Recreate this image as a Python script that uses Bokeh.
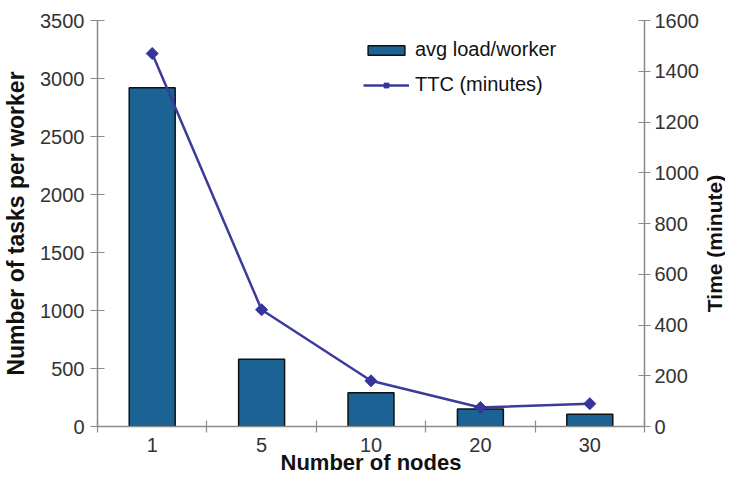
import math
from bokeh.plotting import figure
from bokeh.layouts import row
from bokeh.core.properties import value
from bokeh.models import (Range1d, LinearAxis, FixedTicker, Legend, LegendItem)
from bokeh.embed import file_html
from bokeh.resources import INLINE

nodes = ["1", "5", "10", "20", "30"]
avg_load = [2920, 580, 290, 150, 105]
ttc_minutes = [1470, 460, 180, 75, 90]
left_ticks = [0, 500, 1000, 1500, 2000, 2500, 3000, 3500]
right_ticks = [0, 200, 400, 600, 800, 1000, 1200, 1400, 1600]
right_title = "Time (minute)"

xpos = [i + 0.5 for i in range(len(nodes))]
FONT = "Liberation Sans"
AXIS_GRAY = "#8a8a8a"

p = figure(width=701, height=477, output_backend="svg", toolbar_location=None,
           x_range=Range1d(0, len(nodes)), y_range=Range1d(0, 3500),
           min_border_left=96, min_border_right=54, min_border_top=20,
           min_border_bottom=51, x_axis_location=None, y_axis_location=None)
p.outline_line_color = None
p.xgrid.visible = False
p.ygrid.visible = False
p.background_fill_color = "white"
p.border_fill_color = "white"
p.extra_y_ranges = {"ttc": Range1d(0, 1600)}

def style_axis(ax):
    ax.axis_line_color = AXIS_GRAY
    ax.axis_line_width = 1.5
    ax.major_tick_line_color = AXIS_GRAY
    ax.major_tick_line_width = 1.2
    ax.major_tick_in = 7
    ax.major_tick_out = 7
    ax.minor_tick_line_color = None
    ax.major_label_text_font = FONT
    ax.major_label_text_font_size = "20px"
    ax.major_label_text_color = "#333333"
    ax.axis_label_text_font = FONT
    ax.axis_label_text_font_style = "bold"
    ax.axis_label_text_color = "#111111"

yl = LinearAxis(ticker=FixedTicker(ticks=left_ticks), axis_label="Number of tasks per worker")
style_axis(yl)
yl.axis_label_text_font_size = "23px"
yl.major_label_standoff = 6
yl.axis_label_standoff = 8
p.add_layout(yl, "left")

yr = LinearAxis(y_range_name="ttc", ticker=FixedTicker(ticks=right_ticks))
style_axis(yr)
yr.major_tick_in = 6
yr.major_tick_out = 6
yr.major_label_standoff = 4
p.add_layout(yr, "right")

xa = LinearAxis(ticker=FixedTicker(ticks=xpos, minor_ticks=list(range(len(nodes) + 1))),
                axis_label="Number of nodes")
style_axis(xa)
xa.major_tick_line_color = None
xa.major_tick_in = 0
xa.major_tick_out = 0
xa.minor_tick_line_color = AXIS_GRAY
xa.minor_tick_line_width = 1.2
xa.minor_tick_in = 6
xa.minor_tick_out = 6
xa.major_label_standoff = 5
xa.axis_label_text_font_size = "22px"
xa.axis_label_standoff = -5
xa.major_label_overrides = {x: n for x, n in zip(xpos, nodes)}
p.add_layout(xa, "below")

bars = p.vbar(x=xpos, top=avg_load, width=0.42, bottom=0,
              fill_color="#1a6394", line_color="#111111", line_width=1.5)
line = p.line(x=xpos, y=ttc_minutes, y_range_name="ttc",
              line_color="#3b3b9c", line_width=2.5)
marks = p.scatter(x=xpos, y=ttc_minutes, y_range_name="ttc", marker="square",
                  angle=math.pi / 4, size=8.5, fill_color="#35359a", line_color="#35359a")

legend = Legend(items=[LegendItem(label="avg load/worker", renderers=[bars]),
                       LegendItem(label="TTC (minutes)", renderers=[line, marks])],
                location=(266, 330), orientation="vertical")
legend.border_line_color = None
legend.background_fill_alpha = 0
legend.padding = 0
legend.margin = 0
legend.spacing = 12
legend.glyph_width = 46
legend.glyph_height = 12
legend.label_text_font = FONT
legend.label_text_font_size = "20px"
legend.label_text_color = "#111111"
legend.label_standoff = 6
p.add_layout(legend, "center")

# narrow strip holding the right-hand axis title (reads bottom to top)
t = figure(width=24, height=477, output_backend="svg", toolbar_location=None,
           x_range=Range1d(0, 1), y_range=Range1d(0, 477), min_border=0,
           x_axis_location=None, y_axis_location=None)
t.outline_line_color = None
t.xgrid.visible = False
t.ygrid.visible = False
t.border_fill_color = "white"
t.text(x=[0.55], y=[215], text=[right_title], angle=math.pi / 2,
       text_align="center", text_baseline="middle",
       text_font=value(FONT), text_font_size="21px", text_font_style="bold",
       text_color="#111111")

layout = row(p, t, spacing=0)
open("out.html", "w").write(file_html(layout, INLINE))
